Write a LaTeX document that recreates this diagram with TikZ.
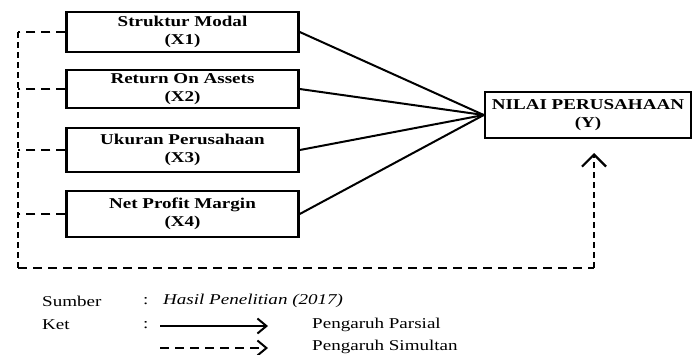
\documentclass[tikz,border=0pt]{standalone}
\usepackage{fontspec}
\setmainfont[FakeStretch=1.27]{Liberation Serif}
\usetikzlibrary{arrows.meta}

\begin{document}
\begin{tikzpicture}[x=1pt,y=-1pt,
    varbox/.style={draw,line width=2.5pt,inner sep=0pt,align=center,
        font=\fontsize{15}{18}\selectfont\bfseries},
    parsial/.style={line width=2pt},
    vdash/.style={line width=2.4pt,dash pattern=on 6pt off 4pt},
    hdash/.style={line width=2.4pt,dash pattern=on 9pt off 6pt},
    legtext/.style={anchor=west,inner sep=0pt,font=\fontsize{15}{17}\selectfont}]
\useasboundingbox (0,0) rectangle (693,354);
\node[varbox,minimum width=232pt,minimum height=40pt] (x1) at (182.5,32) {Struktur Modal\\(X1)};
\node[varbox,minimum width=232pt,minimum height=38pt] (x2) at (182.5,89) {Return On Assets\\(X2)};
\node[varbox,minimum width=232pt,minimum height=44pt] (x3) at (182.5,150) {Ukuran Perusahaan\\(X3)};
\node[varbox,minimum width=232pt,minimum height=46pt] (x4) at (182.5,214) {Net Profit Margin\\(X4)};
\node[varbox,minimum width=206pt,minimum height=46pt] (y) at (588,115) {NILAI PERUSAHAAN\\(Y)};
\draw[parsial] (x1.east) -- (y.west);
\draw[parsial] (x2.east) -- (y.west);
\draw[parsial] (x3.east) -- (y.west);
\draw[parsial] (x4.east) -- (y.west);
% simultan
\coordinate (cl) at (18,268);
\coordinate (cr) at (594,268);
\coordinate (tip) at (594,153);
\draw[hdash] (x1.west) -- (x1.west -| cl);
\draw[hdash] (x2.west) -- (x2.west -| cl);
\draw[hdash] (x3.west) -- (x3.west -| cl);
\draw[hdash] (x4.west) -- (x4.west -| cl);
\draw[vdash] (x1.west -| cl) -- (cl);
\draw[hdash] (cl) -- (cr);
\draw[vdash,-{Straight Barb[length=12pt,width=24pt,line width=2.2pt]}] (cr) -- (tip);
% keterangan
\node[legtext] (sumber) at (42,301) {Sumber};
\node[legtext] (c1) at (143,301) {:};
\node[legtext] (hasil) at (163,301) {\itshape Hasil Penelitian (2017)};
\node[legtext] (ket) at (42,325) {Ket};
\node[legtext] (c2) at (143,325) {:};
\coordinate (pa) at (160,326);
\coordinate (pb) at (268,326);
\coordinate (sa) at (160,348);
\coordinate (sb) at (268,348);
\draw[parsial,-{Straight Barb[length=9pt,width=15pt,line width=2pt]}] (pa) -- (pb);
\draw[hdash,-{Straight Barb[length=9pt,width=15pt,line width=2pt]}] (sa) -- (sb);
\node[legtext] (parsial) at (312,325) {Pengaruh Parsial};
\node[legtext] (simultan) at (312,347) {Pengaruh Simultan};
\end{tikzpicture}
\end{document}
